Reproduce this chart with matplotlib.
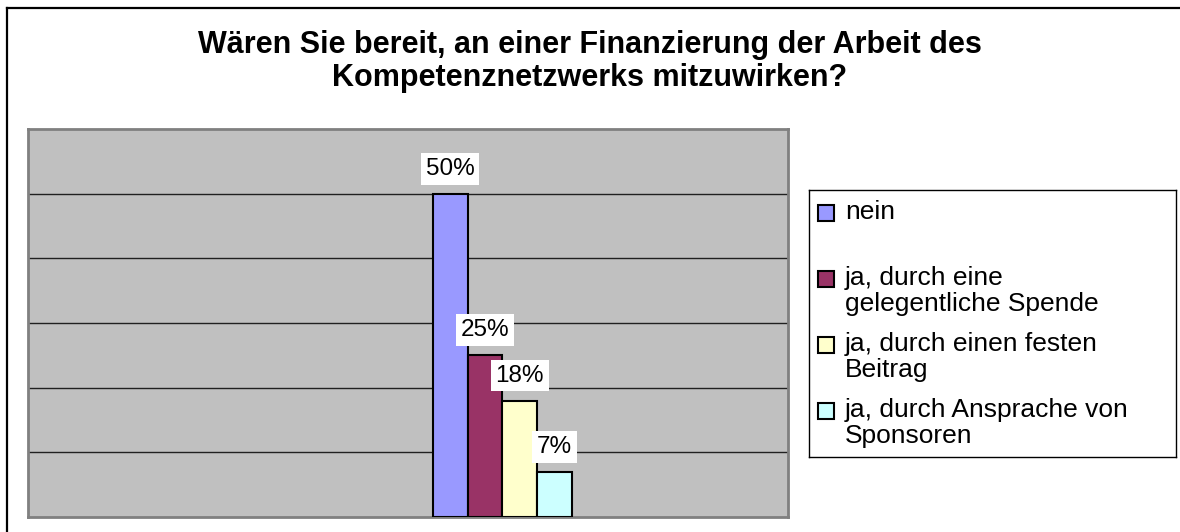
import matplotlib
matplotlib.use('Agg')
import matplotlib.pyplot as plt
from matplotlib.patches import Rectangle
from matplotlib.lines import Line2D

plt.rcParams['font.family'] = ['Liberation Sans', 'DejaVu Sans']

title = 'Wären Sie bereit, an einer Finanzierung der Arbeit des\nKompetenznetzwerks mitzuwirken?'
names = ['nein',
         'ja, durch eine\ngelegentliche Spende',
         'ja, durch einen festen\nBeitrag',
         'ja, durch Ansprache von\nSponsoren']
values = [50, 25, 18, 7]
colors = ['#9999FF', '#993366', '#FFFFCC', '#CCFFFF']

W, H = 1180, 532
fig = plt.figure(figsize=(W / 100, H / 100), dpi=100)

# outer chart frame (right/bottom edges run off the picture)
fig.add_artist(Line2D([7 / W, 7 / W], [1 - 8 / H, 0], color='black', lw=1.6))
fig.add_artist(Line2D([7 / W, 1], [1 - 8 / H, 1 - 8 / H], color='black', lw=1.6))

fig.text(590 / W, 1 - 30 / H, title, ha='center', va='top', fontsize=22,
         fontweight='bold', linespacing=1.15)

# plot area
ax = fig.add_axes([28 / W, 15 / H, 760 / W, 388 / H])
ax.set_facecolor('#C0C0C0')
xs = list(range(len(values)))
ax.bar(xs, values, width=1.0, color=colors, edgecolor='black', linewidth=1.5, zorder=3)
ax.set_xlim(-12.15, 9.72)
ax.set_ylim(0, 60)
for g in range(10, 60, 10):
    ax.axhline(g, color='#202020', lw=1.0, zorder=1)
ax.set_xticks([])
ax.set_yticks([])
for s in ax.spines.values():
    s.set_color('#808080')
    s.set_linewidth(2)

for x, v in zip(xs, values):
    ax.annotate(f'{v}%', (x, v), xytext=(0, 14), textcoords='offset pixels',
                ha='center', va='bottom', fontsize=17.5, zorder=5,
                bbox=dict(boxstyle='square,pad=0.2', fc='white', ec='none'))

# legend box
lg = fig.add_axes([809 / W, 75 / H, 367 / W, 267 / H])
lg.set_xlim(0, 367)
lg.set_ylim(267, 0)
lg.set_xticks([])
lg.set_yticks([])
for s in lg.spines.values():
    s.set_color('black')
    s.set_linewidth(1.0)
for i, (name, c) in enumerate(zip(names, colors)):
    y = 23 + i * 66
    lg.add_patch(Rectangle((9, y - 8), 16, 16, facecolor=c, edgecolor='black', lw=1.5))
    lg.text(36, y - 13, name, ha='left', va='top', fontsize=19, linespacing=1.12)

fig.savefig('out.png', dpi=100)
